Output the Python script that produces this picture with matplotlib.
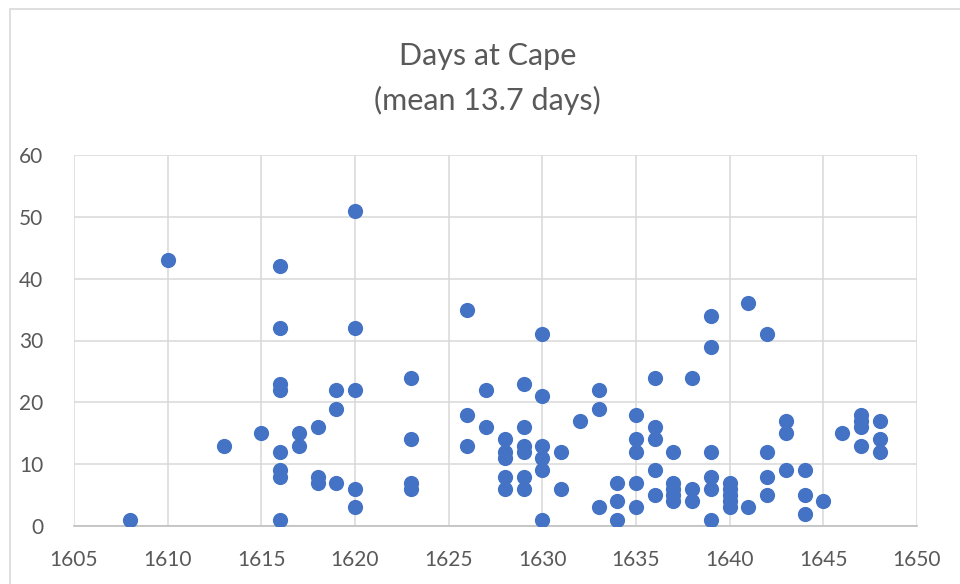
import matplotlib.pyplot as plt
from matplotlib.patches import Rectangle

# year of visit -> days spent at the Cape
years = [1608, 1610, 1613, 1615,
         1616, 1616, 1616, 1616, 1616, 1616, 1616, 1616,
         1617, 1617, 1618, 1618, 1618, 1619, 1619, 1619,
         1620, 1620, 1620, 1620, 1620,
         1623, 1623, 1623, 1623, 1626, 1626, 1626, 1627, 1627,
         1628, 1628, 1628, 1628, 1628,
         1629, 1629, 1629, 1629, 1629, 1629,
         1630, 1630, 1630, 1630, 1630, 1630,
         1631, 1631, 1632, 1633, 1633, 1633, 1634, 1634, 1634,
         1635, 1635, 1635, 1635, 1635,
         1636, 1636, 1636, 1636, 1636,
         1637, 1637, 1637, 1637, 1637,
         1638, 1638, 1638,
         1639, 1639, 1639, 1639, 1639, 1639,
         1640, 1640, 1640, 1640, 1640,
         1641, 1641, 1642, 1642, 1642, 1642,
         1643, 1643, 1643, 1644, 1644, 1644, 1645, 1646,
         1647, 1647, 1647, 1647, 1648, 1648, 1648]
days = [1, 43, 13, 15,
        42, 32, 23, 22, 12, 9, 8, 1,
        15, 13, 16, 8, 7, 22, 19, 7,
        51, 32, 22, 6, 3,
        24, 14, 7, 6, 35, 18, 13, 22, 16,
        14, 12, 11, 8, 6,
        23, 16, 13, 12, 8, 6,
        31, 21, 13, 11, 9, 1,
        12, 6, 17, 22, 19, 3, 7, 4, 1,
        18, 14, 12, 7, 3,
        24, 16, 14, 9, 5,
        12, 7, 6, 5, 4,
        24, 6, 4,
        34, 29, 12, 8, 6, 1,
        7, 6, 5, 4, 3,
        36, 3, 31, 12, 8, 5,
        17, 15, 9, 9, 5, 2, 4, 15,
        18, 17, 16, 13, 17, 14, 12]

x_ticks = [1605, 1610, 1615, 1620, 1625, 1630, 1635, 1640, 1645, 1650]
y_ticks = [0, 10, 20, 30, 40, 50, 60]

plt.rcParams['font.family'] = ['Lato', 'DejaVu Sans']

fig = plt.figure(figsize=(9.6, 5.84), dpi=100)
fig.patches.append(Rectangle((10 / 960, -0.1), 1.1, 1 - 9 / 584 + 0.1,
                             transform=fig.transFigure, fill=False,
                             edgecolor='#d9d9d9', linewidth=1.2))

ax = fig.add_axes([74 / 960, 1 - 526 / 584, (917 - 74) / 960, (526 - 155) / 584])
ax.scatter(years, days, s=120, color='#4472C4', zorder=3, linewidths=0)

ax.set_xlim(1605, 1650)
ax.set_ylim(0, 60)
ax.set_xticks(x_ticks)
ax.set_yticks(y_ticks)
ax.grid(True, color='#d9d9d9', linewidth=1.1)
ax.set_axisbelow(True)
for side in ['top', 'right', 'left']:
    ax.spines[side].set_visible(False)
ax.spines['bottom'].set_color('#bfbfbf')
ax.spines['bottom'].set_linewidth(1.2)
ax.tick_params(length=0, labelsize=15, labelcolor='#595959')
ax.tick_params(axis='y', pad=22)
ax.tick_params(axis='x', pad=17)

fig.text(0.508, 1 - 56 / 584, 'Days at Cape', ha='center', va='center',
         fontsize=22, color='#595959')
fig.text(0.508, 1 - 100 / 584, '(mean 13.7 days)', ha='center', va='center',
         fontsize=22, color='#595959')

fig.savefig('out.png', dpi=100)
